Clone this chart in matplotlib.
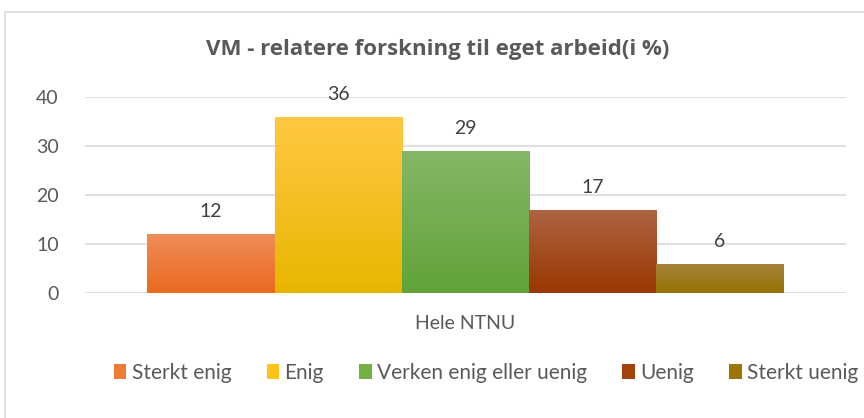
import matplotlib
matplotlib.use("Agg")
from matplotlib import pyplot
from matplotlib.colors import LinearSegmentedColormap
from matplotlib.patches import Rectangle
import numpy as np

# Data
categories = ["Hele NTNU"]
series_names = ["Sterkt enig", "Enig", "Verken enig eller uenig", "Uenig", "Sterkt uenig"]
series_values = [12, 36, 29, 17, 6]
series_colors = ["#F07D34", "#FFC31A", "#72B043", "#A4420C", "#9C7404"]
# gradient (topp, bunn) for hver serie
grad_colors = [("#F08C58", "#E96A1F"), ("#FFC843", "#E8B600"), ("#86B767", "#61A338"),
               ("#AE6444", "#993700"), ("#A8853C", "#957000")]
y_ticks = [0, 10, 20, 30, 40]

pyplot.rcParams['font.family'] = ['Lato', 'DejaVu Sans']

fig = pyplot.figure(figsize=(8.64, 4.18), dpi=100)
ax = fig.add_axes([0.0984, 0.299, 0.8806, 0.469])

# ramme rundt diagrammet
fig.patches.append(Rectangle((5 / 864, -0.02), 1.0, 1 - 12 / 418 + 0.02,
                             transform=fig.transFigure, fill=False,
                             edgecolor="#D9D9D9", linewidth=1.2))

group_width = 0.836
bar_w = group_width / len(series_values)
grad = np.linspace(0, 1, 256).reshape(-1, 1)
for i, (name, val, col) in enumerate(zip(series_names, series_values, series_colors)):
    x = -group_width / 2 + bar_w * (i + 0.5)
    bars = ax.bar(x, val, width=bar_w, color=col, label=name, zorder=2)
    # gradientfyll
    p = bars.patches[0]
    cmap = LinearSegmentedColormap.from_list("g%d" % i, list(grad_colors[i]))
    im = ax.imshow(grad, cmap=cmap, aspect="auto", zorder=2.5,
                   extent=(p.get_x(), p.get_x() + p.get_width(), p.get_y(), p.get_y() + p.get_height()),
                   origin="upper")
    im.set_clip_path(p)
    lab = ax.bar_label(bars, padding=10, fontsize=14, color="#404040")
    for t in lab:
        t.set_clip_on(False)

ax.set_xlim(-0.5, 0.5)
ax.set_ylim(0, 40)
ax.set_yticks(y_ticks)
ax.set_xticks([0])
ax.set_xticklabels(categories)
ax.tick_params(axis='both', length=0, labelsize=14, labelcolor="#595959")
ax.tick_params(axis='y', pad=19)
ax.tick_params(axis='x', pad=16)
ax.grid(axis='y', color="#D9D9D9", linewidth=1.2, zorder=0)
for s in ax.spines.values():
    s.set_visible(False)

fig.text(438 / 864, 1 - 50 / 418, "VM - relatere forskning til eget arbeid(i %)",
         ha="center", va="center", fontsize=16, fontweight="bold", color="#595959",
         family=["Open Sans", "DejaVu Sans"])

fig.legend(loc="center", bbox_to_anchor=(486 / 864, 1 - 373 / 418), ncol=5,
           frameon=False, fontsize=15, handlelength=0.6, handleheight=0.75,
           handletextpad=0.25, columnspacing=1.7, labelcolor="#595959")

fig.savefig("out.png", dpi=100)
pyplot.close(fig)
